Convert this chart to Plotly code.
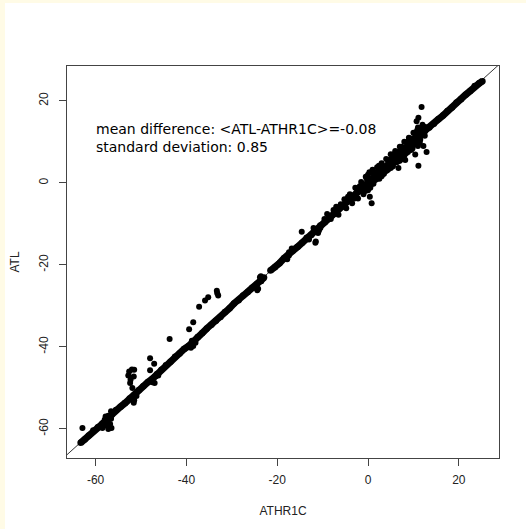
import plotly.graph_objects as go

# ---- data ----
# main band of points, ATHR1C (x) vs ATL (y)
band_athr1c = [-63.3, -62.4, -61.5, -60.5, -59.5, -58.5, -57.5, -56.5, -55.5, -54.5,
               -53.5, -52.5, -51.5, -50.5, -49.5, -48.5, -47.5, -46.5, -45.5, -44.5,
               -43.5, -42.5, -41.5, -40.5, -39.5, -38.5, -37.5, -36.5, -35.5, -34.5,
               -33.5, -32.5, -31.5, -30.5, -29.5, -28.5, -27.5, -26.5, -25.5, -24.5,
               -23.6, -22.9, None, -21.5, -20.5, -19.5, -18.5, -17.5, -16.5, -15.5,
               -14.5, -13.5, -12.5, -11.5, -10.5, -9.5, -8.5, -7.5, -6.5, -5.5,
               -4.5, -3.5, -2.5, -1.5, -0.5, 0.5, 1.5, 2.5, 3.5, 4.5,
               5.5, 6.5, 7.5, 8.5, 9.5, 10.5, 11.5, 12.5, 13.5, 14.5,
               15.5, 16.5, 17.5, 18.5, 19.5, 20.5, 21.5, 22.5, 23.5, 24.5, 25.2]
band_atl = [-63.4, -62.6, -61.6, -60.4, -59.6, -58.7, -57.8, -56.6, -55.4, -54.6,
            -53.7, -52.6, -51.8, -50.6, -49.6, -48.6, -47.8, -46.7, -45.6, -44.5,
            -43.6, -42.4, -41.6, -40.5, -39.8, -38.9, -37.6, -36.6, -35.5, -34.6,
            -33.6, -32.7, -31.5, -30.6, -29.4, -28.6, -27.5, -26.6, -25.6, -24.7,
            -23.9, -23.1, None, -21.4, -20.6, -19.6, -18.4, -17.7, -16.5, -15.6,
            -14.6, -13.4, -12.7, -11.8, -10.4, -9.6, -8.3, -7.6, -6.4, -5.7,
            -4.3, -3.6, -2.4, -1.7, -0.4, 0.6, 1.7, 2.4, 3.7, 4.4,
            5.6, 6.6, 7.4, 8.7, 9.4, 10.6, 11.8, 12.6, 13.5, 14.4,
            15.5, 16.4, 17.5, 18.4, 19.6, 20.4, 21.5, 22.4, 23.6, 24.3, 24.8]

# scattered points, clusters and outliers around the band
extra_athr1c = [-62.9, -58.3, -57.8, -57.2, -56.6, -57.0, -57.8, -56.8, -58.0, -57.5,
                -56.5, -57.2, -58.5, -56.6,
                -52.6, -52.0, -51.5, -52.8, -52.3, -51.6, -52.4, -51.9,
                -51.5, -51.0, -51.6,
                -48.0, -47.1, -48.0, -47.5, -46.8, -46.2, -47.0,
                -43.7, -39.4, -38.5, -39.0, -38.5, -38.0, -38.8,
                -37.2, -35.9, -35.2, -33.3, -33.0, -33.2,
                -24.2, -23.8, -23.5, -24.4, -23.6, -17.8, -17.4,
                -14.6, -11.5, -11.0, -10.8, -11.6, -10.5,
                -9.0, -8.2, -7.0, -6.5, -5.2, -4.8, -4.0, -3.5, -2.8, -2.2,
                -1.5, -1.0, -0.5, 0.0, 0.3, 0.4, 0.8, 1.0, 1.2, 2.0,
                2.5, 3.0, 3.5, 4.0, 4.5, 5.0, 5.5, 6.0, 6.7, 7.0,
                7.5, 8.0, 8.2, 8.8, 9.0, 9.5, 10.0, 10.4, 10.5, 10.7,
                11.1, 11.0, 11.1, 11.5, 11.8, 11.8, 12.0, 12.2, 12.9, 12.5, 12.6,
                -0.3, 0.6, 1.6, 2.2, 3.2, 4.2, 5.2, 6.3, 7.2, 8.4,
                9.2, 9.8, 10.2, 11.3, -0.8, 0.2, 1.4, 2.8, 3.8, 4.8,
                5.8, 6.8, 7.8, 8.6, 9.6, 10.8, 11.6, -1.8, -3.0, -6.0,
                -0.6, 0.0, 0.5, 1.0, 1.8, 2.4, 3.4, 4.4, 5.4, 6.0,
                6.6, 7.4, 8.0, 9.0, 9.8, 10.6, 11.4, 12.0, 3.0, 5.0,
                7.0, 9.4, 11.0, -2.4, -4.4, -7.6, -9.6, -16.8, -13.0, -12.0]
extra_atl = [-59.8, -58.5, -57.0, -56.8, -57.5, -59.5, -59.2, -58.8, -57.8, -58.2,
             -59.8, -60.0, -59.8, -55.7,
             -46.0, -45.5, -45.6, -47.0, -48.0, -47.2, -48.8, -50.0,
             -53.0, -52.0, -53.6,
             -42.8, -44.1, -45.7, -48.6, -47.2, -47.0, -48.8,
             -38.1, -35.7, -34.0, -40.2, -39.8, -39.0, -38.5,
             -30.2, -28.7, -27.9, -26.3, -27.5, -26.9,
             -25.8, -23.0, -24.0, -26.2, -22.8, -18.6, -16.9,
             -11.9, -14.3, -12.2, -11.6, -14.6, -11.0,
             -7.6, -8.8, -5.8, -7.8, -4.0, -6.2, -2.8, -5.0, -1.2, -3.8,
             0.2, -2.8, 1.5, -1.8, 2.6, -3.4, -5.0, 3.2, -0.2, 3.8,
             1.0, 4.8, 2.2, 5.8, 3.3, 7.0, 4.2, 7.8, 3.6, 8.8,
             5.8, 10.0, 5.6, 7.5, 11.0, 8.0, 12.2, 6.9, 9.5, 15.0,
             15.9, 13.5, 4.2, 10.5, 18.5, 12.5, 14.2, 9.0, 7.5, 11.5, 13.6,
             1.0, -0.6, 2.6, 1.4, 4.0, 3.0, 6.2, 5.0, 8.0, 7.2,
             10.2, 8.8, 11.0, 12.0, -1.0, 0.8, 0.6, 3.6, 2.8, 5.6,
             6.6, 7.6, 6.8, 9.6, 10.6, 12.8, 11.4, -0.8, -3.8, -5.2,
             -2.0, 2.0, -1.2, 2.4, 0.8, 4.2, 2.2, 5.6, 4.0, 7.4,
             5.2, 8.8, 6.6, 10.4, 8.4, 11.8, 9.8, 13.2, 1.6, 3.6,
             5.4, 10.8, 9.0, -1.4, -3.4, -6.6, -8.8, -16.0, -13.8, -11.0]

# reference line ATL = ATHR1C
ref_x = [-70, 30]
ref_y = [-70, 30]

x_ticks = [-60, -40, -20, 0, 20]
y_ticks = [-60, -40, -20, 0, 20]

stats_text = "mean difference: &lt;ATL-ATHR1C&gt;=-0.08<br>standard deviation: 0.85"

fig = go.Figure()
fig.add_trace(go.Scatter(x=ref_x, y=ref_y, mode="lines",
                         line=dict(color="black", width=0.8),
                         hoverinfo="skip", showlegend=False))
fig.add_trace(go.Scatter(x=band_athr1c, y=band_atl, mode="lines+markers",
                         line=dict(color="black", width=7),
                         marker=dict(color="black", size=6.5),
                         showlegend=False))
fig.add_trace(go.Scatter(x=extra_athr1c, y=extra_atl, mode="markers",
                         marker=dict(color="black", size=6),
                         showlegend=False))

fig.add_annotation(x=-60.4, y=10.9, xref="x", yref="y", text=stats_text,
                   showarrow=False, xanchor="left", yanchor="middle", align="left",
                   font=dict(family="DejaVu Sans", size=14, color="black"))

# cream strips along the left and top edges of the page
W, H = 526, 529
L, R, T, B = 67, 27, 66, 71
pw, ph = W - L - R, H - T - B
def px_x(p):
    return (p - L) / pw
def px_y(p):
    return (H - B - p) / ph
fig.add_shape(type="rect", xref="paper", yref="paper", x0=px_x(0), x1=px_x(5),
              y0=px_y(H), y1=px_y(0), fillcolor="#fffbe6", line=dict(width=0), layer="below")
fig.add_shape(type="rect", xref="paper", yref="paper", x0=px_x(0), x1=px_x(W),
              y0=px_y(3), y1=px_y(0), fillcolor="#fffbe6", line=dict(width=0), layer="below")

axis_font = dict(family="Liberation Sans, Arial, sans-serif", size=12, color="#222")
fig.update_layout(
    width=W, height=H,
    margin=dict(l=L, r=R, t=T, b=B),
    paper_bgcolor="white", plot_bgcolor="white",
    font=axis_font,
    xaxis=dict(range=[-66.3, 28.85], tickvals=x_ticks, ticktext=[str(v) for v in x_ticks],
               showgrid=False, zeroline=False, showline=True, linecolor="#444", linewidth=1,
               mirror=True, ticks="outside", ticklen=7, tickcolor="#444",
               ticklabelstandoff=4, tickfont=axis_font,
               title=dict(text="ATHR1C", font=axis_font, standoff=20)),
    yaxis=dict(range=[-67.1, 28.5], tickvals=y_ticks, ticktext=[str(v) for v in y_ticks],
               showgrid=False, zeroline=False, showline=True, linecolor="#444", linewidth=1,
               mirror=True, ticks="outside", ticklen=7, tickcolor="#444", tickangle=-90,
               ticklabelstandoff=6, tickfont=axis_font,
               title=dict(text="ATL", font=axis_font, standoff=15)),
)

fig.write_html("out.html",
               config={"displayModeBar": False},
               post_script="document.body.style.margin='0';"
                           "document.body.style.overflow='hidden';")
